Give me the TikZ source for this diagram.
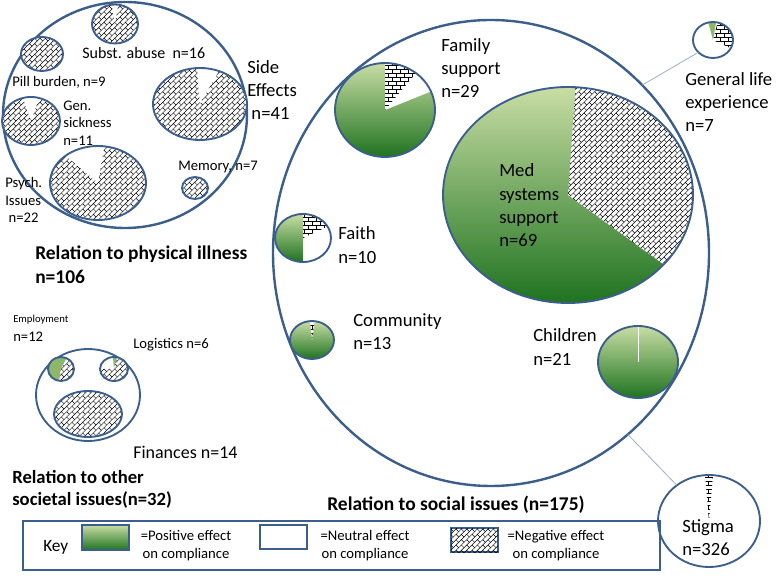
\documentclass[tikz,border=0pt]{standalone}
\usepackage{fontspec}
\setmainfont{Carlito}
\usetikzlibrary{shapes.geometric,patterns}

\definecolor{edge}{HTML}{3B5E8C}
\definecolor{gtop}{HTML}{C8DDA4}
\definecolor{gbot}{HTML}{1F7320}
\definecolor{gmid}{HTML}{8DB86A}
\definecolor{thinlink}{HTML}{98B0CC}

\pgfdeclarepatternformonly{diagbrick}{\pgfqpoint{-0.5pt}{-0.5pt}}{\pgfqpoint{4.5pt}{4.5pt}}{\pgfqpoint{4pt}{4pt}}{%
  \pgfsetlinewidth{0.35pt}
  \pgfpathmoveto{\pgfqpoint{0pt}{0pt}}
  \pgfpathlineto{\pgfqpoint{4pt}{4pt}}
  \pgfpathmoveto{\pgfqpoint{2pt}{2pt}}
  \pgfpathlineto{\pgfqpoint{4pt}{0pt}}
  \pgfusepath{stroke}}

\pgfdeclarepatternformonly{smallbricks}{\pgfqpoint{-0.3pt}{-0.3pt}}{\pgfqpoint{6.3pt}{6.3pt}}{\pgfqpoint{6pt}{6pt}}{%
  \pgfsetlinewidth{0.45pt}
  \pgfpathmoveto{\pgfqpoint{0pt}{0pt}}
  \pgfpathlineto{\pgfqpoint{6pt}{0pt}}
  \pgfpathmoveto{\pgfqpoint{0pt}{3pt}}
  \pgfpathlineto{\pgfqpoint{6pt}{3pt}}
  \pgfpathmoveto{\pgfqpoint{0pt}{0pt}}
  \pgfpathlineto{\pgfqpoint{0pt}{3pt}}
  \pgfpathmoveto{\pgfqpoint{3pt}{3pt}}
  \pgfpathlineto{\pgfqpoint{3pt}{6pt}}
  \pgfusepath{stroke}}

\newcommand{\wedgepart}[3]{\fill[#1] (path picture bounding box.center) -- ++(#2:6cm) arc[start angle=#2, end angle=#3, radius=6cm] -- cycle;}

\begin{document}
\begin{tikzpicture}[
x=0.75pt, y=0.75pt,
bub/.style 2 args={
  ellipse,
  draw=edge,
  line width=1.4pt,
  inner sep=0pt,
  outer sep=0pt,
  minimum width=1.5pt*#1,
  minimum height=1.5pt*#2
  },
bigbub/.style 2 args={
  bub={#1}{#2},
  line width=1.8pt
  },
green/.style={top color=gtop, bottom color=gbot},
neg/.style={fill=white, postaction={pattern=diagbrick}},
negb/.style={fill=white, postaction={pattern=smallbricks}},
neu/.style={fill=white},
posf/.style={fill=gmid},
lbl/.style={align=left, anchor=west, inner sep=0pt, font=\fontsize{14}{17.5}\selectfont},
small/.style={lbl, font=\fontsize{11}{13.2}\selectfont},
head/.style={lbl, font=\bfseries\fontsize{14.6}{18}\selectfont},
keytxt/.style={align=center, inner sep=0pt, font=\fontsize{11}{14}\selectfont},
link/.style={draw=thinlink, line width=0.6pt}
]
\useasboundingbox (0,0) rectangle (780,585);

% relation to physical illness
\node[bigbub={122}{113}] (phys) at (125,470) {};
\node[bub={23}{19.5}, path picture={\wedgepart{neg}{100}{440}}] (subst) at (115,561) {};
\node[bub={21}{17}, path picture={\wedgepart{neg}{0}{360}}] (pill) at (42,531) {};
\node[bub={29}{24}, path picture={\wedgepart{neg}{110}{430}}] (gensick) at (31,464) {};
\node[bub={47}{36}, path picture={\wedgepart{neg}{95}{420}}] (sidefx) at (200,481) {};
\node[bub={48}{37}, path picture={\wedgepart{neg}{140}{440}}] (psych) at (98,402) {};
\node[bub={13}{11}, path picture={\wedgepart{neg}{0}{360}}] (memory) at (195,397) {};

\node[small, font=\fontsize{12}{14}\selectfont] (substlbl) at (82,532) {Subst. abuse\ \ n=16};
\node[small] (pilllbl) at (12,503) {Pill burden, n=9};
\node[small] (gensicklbl) at (63,462) {Gen.\\sickness\\n=11};
\node[lbl] (sidefxlbl) at (247,495) {Side\\Effects\\\ n=41};
\node[small] (memorylbl) at (178,418) {Memory, n=7};
\node[small] (psychlbl) at (5,385) {Psych.\\Issues\\\ n=22};
\node[head] (physlbl) at (35,320) {Relation to physical illness\\n=106};

% relation to social issues
\node[bigbub={218}{233}] (social) at (491,332) {};
\node[bub={50}{47}, green, path picture={\wedgepart{neu}{22}{90}\wedgepart{negb}{50}{90}}] (family) at (385,475) {};
\node[bub={20}{18}, fill=white, path picture={\wedgepart{posf}{80}{105}\wedgepart{negb}{-25}{75}}] (gle) at (713,545) {};
\node[bub={125}{108}, green, path picture={\wedgepart{neg}{-36}{86}}] (med) at (568,390) {};
\node[bub={28}{24}, green, path picture={\wedgepart{neu}{-90}{90}\wedgepart{negb}{25}{90}}] (faith) at (303,347) {};
\node[bub={22}{19}, green, path picture={\wedgepart{negb}{82}{96}}] (community) at (312,245) {};
\node[bub={40}{36}, green, path picture={\draw[white, line width=0.6pt] (path picture bounding box.center) -- ++(90:2cm);}] (children) at (638,223) {};
\node[bub={51}{46}, fill=white, path picture={\wedgepart{negb}{85}{95}}] (stigma) at (709,64) {};

\draw[link] (gle.220) -- (social.48);
\draw[link] (social.-53) -- (stigma.132);

\node[lbl] (familylbl) at (441,517) {Family\\support\\n=29};
\node[lbl] (glelbl) at (685,483) {General life\\experience\\n=7};
\node[lbl] (medlbl) at (499,379.5) {Med\\systems\\support\\n=69};
\node[lbl] (faithlbl) at (338,340) {Faith\\n=10};
\node[lbl] (communitylbl) at (353,253.5) {Community\\n=13};
\node[lbl] (childrenlbl) at (533,238) {Children\\n=21};
\node[lbl] (stigmalbl) at (682,47.5) {Stigma\\n=326};
\node[head] (sociallbl) at (327,80) {Relation to social issues (n=175)};

% relation to other societal issues
\node[bub={52}{46}] (societal) at (88,190) {};
\node[bub={13}{12}, fill=white, path picture={\wedgepart{posf}{62}{262}\wedgepart{neg}{262}{422}}] (employ) at (61,216) {};
\node[bub={14}{12}, fill=white, path picture={\wedgepart{posf}{75}{95}\wedgepart{neg}{180}{435}}] (logist) at (114,216) {};
\node[bub={34}{23}, path picture={\wedgepart{neg}{0}{360}}] (finance) at (88,171) {};

\node[lbl, font=\fontsize{8}{10}\selectfont] (employlbl) at (13,265) {Employment};
\node[small] (employn) at (13,248) {n=12};
\node[small] (logistlbl) at (133,240) {Logistics n=6};
\node[lbl, font=\fontsize{13.5}{16}\selectfont] (financelbl) at (133,133) {Finances n=14};
\node[head, font=\bfseries\fontsize{14}{17}\selectfont] (societallbl) at (12,95.5) {Relation to other\\societal issues(n=32)};

% key
\draw[draw=edge, line width=1.6pt] (23,15) rectangle (660,64);
\node[lbl, font=\fontsize{13}{15}\selectfont] (keylbl) at (43,38) {Key};
\draw[draw=edge, line width=1.3pt, green] (82,35) rectangle (129,60);
\draw[draw=edge, line width=1.3pt, fill=white] (260,36) rectangle (307,60);
\draw[draw=edge, line width=1.3pt, neg] (451,33) rectangle (498,57);
\node[keytxt] (postxt) at (186,39.5) {=Positive effect\\on compliance};
\node[keytxt] (neutxt) at (365,39.5) {=Neutral effect\\on compliance};
\node[keytxt] (negtxt) at (556,39.5) {=Negative effect\\on compliance};
\end{tikzpicture}
\end{document}
